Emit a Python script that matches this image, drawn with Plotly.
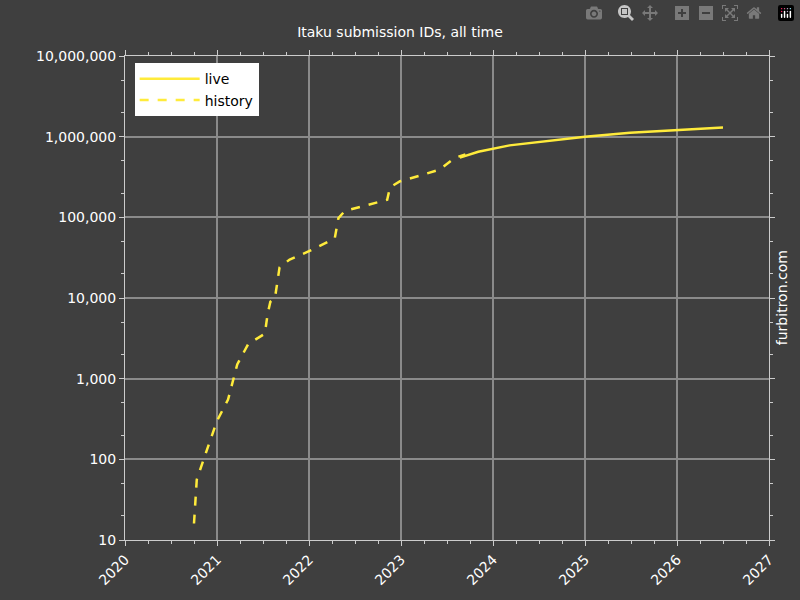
import plotly.graph_objects as go

hist_x = [2020.75, 2020.78, 2020.87, 2021.0, 2021.12, 2021.22, 2021.34, 2021.52, 2021.55,
          2021.58, 2021.63, 2021.68, 2021.79, 2022.0, 2022.28, 2022.32, 2022.39, 2022.66,
          2022.85, 2022.88, 2022.99, 2023.21, 2023.42, 2023.59, 2023.7]
hist_y = [16, 56, 112, 300, 550, 1500, 2700, 3600, 6300,
          9000, 10000, 24000, 30000, 38000, 55000, 98000, 120000, 145000,
          165000, 235000, 280000, 330000, 390000, 550000, 600000]
live_x = [2023.64, 2023.84, 2024.18, 2024.62, 2025.0, 2025.49, 2026.03, 2026.5]
live_y = [550000, 650000, 780000, 900000, 1000000, 1120000, 1220000, 1300000]

year_ticks = [2020, 2021, 2022, 2023, 2024, 2025, 2026, 2027]
y_ticks = [10, 100, 1000, 10000, 100000, 1000000, 10000000]
y_labels = ["10", "100", "1,000", "10,000", "100,000", "1,000,000", "10,000,000"]

bg = "#3f3f3f"
fig = go.Figure()
fig.add_trace(go.Scatter(x=live_x, y=live_y, mode="lines", name="live",
                         line=dict(color="#ffeb3b", width=2.5)))
fig.add_trace(go.Scatter(x=hist_x, y=hist_y, mode="lines", name="history",
                         line=dict(color="#ffeb3b", width=2.5, dash="dash")))

axis_common = dict(showgrid=True, gridcolor="#8a8a8a", gridwidth=1.5, showline=True,
                   linecolor="#cccccc", mirror="ticks", ticks="outside",
                   tickcolor="#cccccc", zeroline=False,
                   tickfont=dict(color="white", size=14))
fig.update_xaxes(range=[2020, 2027], tickvals=year_ticks, tickangle=-45,
                 minor=dict(dtick=0.25, ticks="outside", ticklen=3, tickcolor="#cccccc"),
                 **axis_common)
fig.update_yaxes(type="log", range=[1, 7], tickvals=y_ticks, ticktext=y_labels,
                 minor=dict(ticks="outside", ticklen=3, tickcolor="#cccccc", showgrid=False),
                 **axis_common)

fig.update_layout(
    width=800, height=600,
    paper_bgcolor=bg, plot_bgcolor=bg,
    font=dict(family="DejaVu Sans", color="white"),
    title=dict(text="Itaku submission IDs, all time", x=0.5, y=0.955,
               font=dict(size=14, color="white")),
    margin=dict(l=125, r=31, t=56, b=48),
    legend=dict(x=0.015, y=0.985, bgcolor="white", font=dict(color="black", size=14),
                tracegroupgap=0, itemwidth=60),
    showlegend=True,
    annotations=[dict(text="furbitron.com", xref="paper", yref="paper", x=1.036, y=0.5,
                      textangle=-90, showarrow=False, font=dict(size=14, color="white"))],
)

fig.write_html("out.html",
               post_script="document.body.style.margin='0';document.body.style.background='#3f3f3f';")
